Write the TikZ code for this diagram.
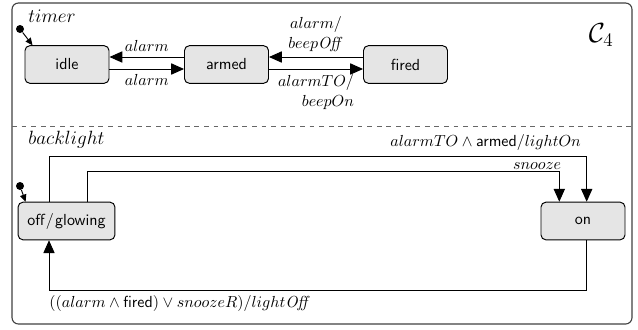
\documentclass[tikz,border=0pt]{standalone}
\usepackage{amsmath}
\usepackage{amssymb}
\usetikzlibrary{arrows.meta,calc}
\tikzset{
  state/.style={draw, rounded corners=3pt, fill=gray!20, font=\sffamily,
    line width=0.6pt, minimum width=52.5pt, minimum height=23.5pt},
  trans/.style={-{Triangle[length=8pt,width=7pt]}, line width=0.6pt},
  initdot/.style={circle, fill, inner sep=0pt, minimum size=5pt},
  initarr/.style={-{Triangle[length=4.5pt,width=4pt]}, line width=0.6pt},
  region/.style={anchor=base west, inner sep=0pt, font=\large}
}

\begin{document}
\begin{tikzpicture}[x=0.625pt,y=-0.625pt]
                \useasboundingbox (0,0) rectangle (638,329);

                %outer box and the line between the two regions
                \draw[black!75, line width=0.7pt, rounded corners=4pt] (12,3) rectangle (632,324);
                \draw[black!60, dashed, line width=0.6pt] (12,126) -- (632,126);

                %names
                \node[region] (timer) at (28,22) {$timer$};
                \node[region] (backlight) at (28,144) {$backlight$};
                \node[anchor=base east, inner sep=0pt, font=\LARGE] (name) at (614,42) {$\mathcal{C}_4$};

                %first region, define nodes first
                \node[state] (idle) at (67,64.5) {idle};
                \node[state] (armed) at (226.5,64.5) {armed};
                \node[state] (fired) at (405.5,64.5) {fired};

                \node[initdot] (i1) at (20,29) {};
                \draw[initarr] (i1) -- ($(idle.north west)+(8,0)$);

                %transitions of the timer
                \draw[trans] ($(armed.west)+(0,-7.5)$) -- node[above]{$alarm$} ($(idle.east)+(0,-7.5)$);
                \draw[trans] ($(idle.east)+(0,4.5)$) -- node[below]{$alarm$} ($(armed.west)+(0,4.5)$);
                \draw[trans] ($(fired.west)+(0,-7.5)$) -- node[above, align=center]{$alarm/$\\$beep\mathit{Off}$} ($(armed.east)+(0,-7.5)$);
                \draw[trans] ($(armed.east)+(0,4.5)$) -- node[below, align=right]{$alarmTO/$\\$beepOn$} ($(fired.west)+(0,4.5)$);

                %second region
                \node[state, minimum width=60.5pt] (off) at (66.5,221) {off\kern0.8pt$/$\kern0.8pt glowing};
                \node[state] (on) at (583,221) {on};

                \node[initdot] (i2) at (20,186) {};
                \draw[initarr] (i2) -- ($(off.north west)+(8,0)$);

                %transitions of the backlight
                \draw[trans] ($(off.north)+(-17.5,0)$) -- ++(0,-45) -| node[pos=0.5, above left]{$alarmTO \wedge \textsf{armed}/lightOn$} ($(on.north)+(3.7,0)$);
                \draw[trans] ($(off.north)+(20.8,0)$) -- ++(0,-30) -| node[pos=0.5, anchor=base east, inner sep=0pt, xshift=1.5pt, yshift=1.4pt]{$snooze$} ($(on.north)+(-23.7,0)$);
                \draw[trans] ($(on.south)+(3.7,0)$) -- ++(0,50) -| node[pos=0.5, anchor=north west, inner sep=0pt, yshift=-3pt]{$((alarm \wedge \textsf{fired}) \vee snoozeR)/light\mathit{Off}$} ($(off.south)+(-17.5,0)$);
            \end{tikzpicture}
\end{document}
